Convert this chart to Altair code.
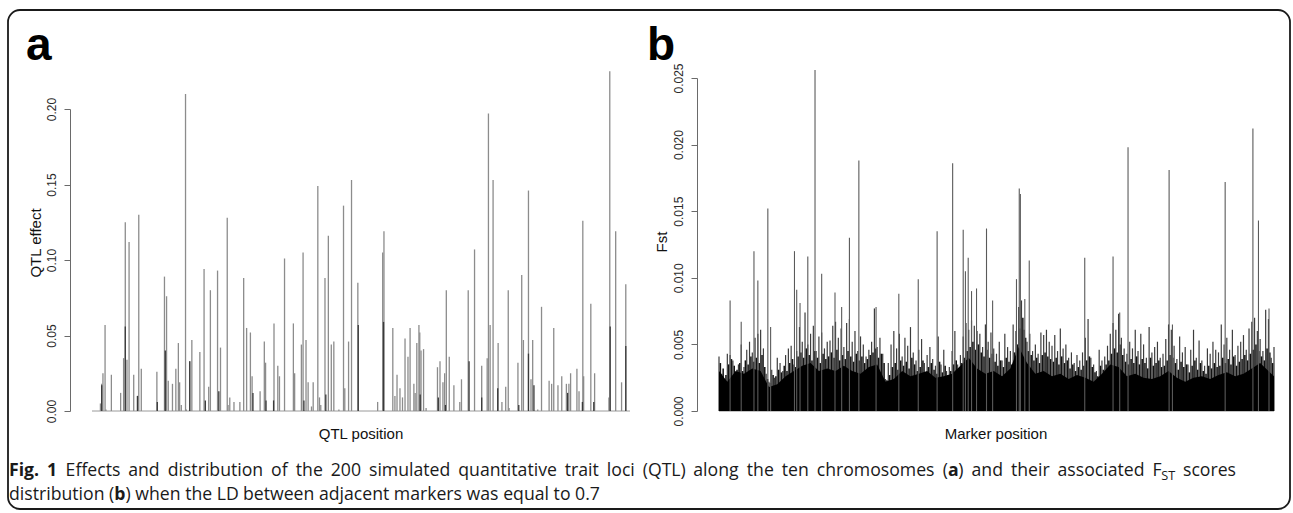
import altair as alt
import pandas as pd

# ---------------- Panel a : QTL effects along the genome ----------------
qtl_pos = [240, 243, 246, 251, 253, 266, 288, 295, 299, 303, 308, 319, 328, 331, 337, 374, 392, 397, 401, 411,
           419, 425, 428, 432, 442, 444, 452, 457, 476, 486, 497, 501, 518, 525, 541, 543, 547, 557, 571, 580,
           587, 596, 600, 619, 629, 632, 652, 661, 665, 677, 698, 701, 717, 721, 728, 733, 741, 745, 756, 760,
           763, 773, 781, 788, 794, 806, 817, 820, 829, 836, 851, 898, 910, 913, 934, 939, 944, 951, 957, 963,
           970, 975, 984, 987, 991, 996, 998, 1001, 1007, 1013, 1040, 1046, 1053, 1057, 1061, 1068, 1079, 1093, 1097, 1113,
           1128, 1145, 1158, 1161, 1165, 1172, 1184, 1193, 1202, 1208, 1210, 1231, 1240, 1244, 1256, 1262, 1266, 1278, 1287, 1305,
           1311, 1316, 1326, 1335, 1346, 1352, 1356, 1371, 1376, 1385, 1387, 1404, 1413, 1447, 1449, 1463, 1477, 1487]
qtl_effect = [0.005, 0.018, 0.025, 0.057, 0.001, 0.024, 0.012, 0.035, 0.125, 0.034, 0.112, 0.024, 0.010, 0.130, 0.028, 0.026, 0.089, 0.076, 0.020, 0.018,
              0.028, 0.045, 0.019, 0.004, 0.210, 0.001, 0.033, 0.047, 0.039, 0.094, 0.016, 0.080, 0.093, 0.042, 0.128, 0.004, 0.009, 0.006, 0.006, 0.088,
              0.055, 0.052, 0.023, 0.013, 0.046, 0.032, 0.058, 0.030, 0.023, 0.101, 0.058, 0.025, 0.044, 0.105, 0.047, 0.019, 0.003, 0.019, 0.149, 0.009,
              0.004, 0.088, 0.116, 0.044, 0.046, 0.001, 0.136, 0.015, 0.046, 0.153, 0.085, 0.006, 0.105, 0.119, 0.055, 0.010, 0.024, 0.015, 0.009, 0.048,
              0.036, 0.055, 0.018, 0.012, 0.045, 0.057, 0.052, 0.040, 0.041, 0.002, 0.029, 0.033, 0.019, 0.025, 0.080, 0.036, 0.017, 0.006, 0.021, 0.080,
              0.107, 0.030, 0.035, 0.197, 0.057, 0.153, 0.045, 0.006, 0.016, 0.080, 0.002, 0.032, 0.090, 0.047, 0.146, 0.021, 0.047, 0.001, 0.069, 0.020,
              0.018, 0.055, 0.017, 0.023, 0.018, 0.018, 0.025, 0.028, 0.013, 0.126, 0.023, 0.071, 0.025, 0.009, 0.225, 0.119, 0.019, 0.084]
# overlapping QTL drawn darker
qtl_dark_pos = [243, 299, 328, 375, 394, 452, 489, 521, 602, 633, 651, 723, 775, 852, 912, 999, 1042, 1059, 1115, 1145,
                1183, 1233, 1256, 1269, 1349, 1384, 1411, 1450, 1487]
qtl_dark_effect = [0.017, 0.056, 0.010, 0.006, 0.040, 0.033, 0.007, 0.013, 0.012, 0.007, 0.007, 0.007, 0.011, 0.057, 0.059, 0.011, 0.009, 0.004, 0.033, 0.009,
                   0.015, 0.004, 0.038, 0.017, 0.012, 0.006, 0.006, 0.056, 0.043]
qtl_ticks = [0.00, 0.05, 0.10, 0.15, 0.20]

# ---------------- Panel b : Fst along the markers ----------------
fst_spike_idx = [20, 40, 63, 70, 88, 93, 136, 140, 146, 160, 173, 185, 209, 221, 235, 252, 283, 324, 359, 393,
                 421, 440, 444, 449, 455, 464, 482, 493, 536, 541, 543, 551, 559, 659, 710, 722, 737, 811, 817, 912,
                 962, 972, 991]
fst_spike_val = [0.0083, 0.0067, 0.0120, 0.0098, 0.0152, 0.0063, 0.0120, 0.0091, 0.0081, 0.0116,
                 0.0256, 0.0103, 0.0089, 0.0078, 0.0130, 0.0188, 0.0078, 0.0088, 0.0099, 0.0135,
                 0.0186, 0.0136, 0.0105, 0.0115, 0.0090, 0.0092, 0.0137, 0.0083, 0.0099, 0.0167,
                 0.0163, 0.0084, 0.0113, 0.0115, 0.0116, 0.0074, 0.0198, 0.0181, 0.0065, 0.0172,
                 0.0212, 0.0143, 0.0077]
# upper marker lines, at marker index 0, 5, 10, ...
fst_line_val = [
    0.0041, 0.0028, 0.0024, 0.0043, 0.0042, 0.0038, 0.0029, 0.0035, 0.0050, 0.0033, 0.0046, 0.0052, 0.0044, 0.0055, 0.0058, 0.0061, 0.0047, 0.0028, 0.0022, 0.0031,
    0.0025, 0.0040, 0.0036, 0.0030, 0.0042, 0.0047, 0.0049, 0.0035, 0.0045, 0.0063, 0.0052, 0.0074, 0.0050, 0.0058, 0.0064, 0.0045, 0.0056, 0.0059, 0.0047, 0.0052,
    0.0053, 0.0064, 0.0067, 0.0055, 0.0062, 0.0048, 0.0066, 0.0069, 0.0052, 0.0060, 0.0045, 0.0056, 0.0050, 0.0041, 0.0046, 0.0052, 0.0077, 0.0048, 0.0055, 0.0043,
    0.0024, 0.0036, 0.0050, 0.0060, 0.0047, 0.0058, 0.0041, 0.0055, 0.0049, 0.0063, 0.0044, 0.0038, 0.0046, 0.0054, 0.0036, 0.0042, 0.0048, 0.0039, 0.0034, 0.0056,
    0.0035, 0.0046, 0.0030, 0.0033, 0.0045, 0.0060, 0.0035, 0.0042, 0.0056, 0.0066, 0.0061, 0.0068, 0.0064, 0.0060, 0.0058, 0.0048, 0.0065, 0.0052, 0.0059, 0.0047,
    0.0043, 0.0052, 0.0038, 0.0058, 0.0048, 0.0045, 0.0065, 0.0060, 0.0078, 0.0083, 0.0061, 0.0052, 0.0058, 0.0045, 0.0050, 0.0043, 0.0059, 0.0057, 0.0061, 0.0052,
    0.0049, 0.0057, 0.0045, 0.0062, 0.0047, 0.0050, 0.0040, 0.0044, 0.0036, 0.0042, 0.0038, 0.0044, 0.0055, 0.0069, 0.0040, 0.0035, 0.0030, 0.0046, 0.0038, 0.0041,
    0.0049, 0.0058, 0.0066, 0.0061, 0.0073, 0.0055, 0.0047, 0.0043, 0.0052, 0.0047, 0.0061, 0.0045, 0.0058, 0.0050, 0.0040, 0.0063, 0.0044, 0.0048, 0.0052, 0.0040,
    0.0043, 0.0054, 0.0065, 0.0061, 0.0049, 0.0039, 0.0056, 0.0044, 0.0048, 0.0035, 0.0046, 0.0061, 0.0040, 0.0053, 0.0038, 0.0034, 0.0047, 0.0043, 0.0052, 0.0046,
    0.0044, 0.0065, 0.0050, 0.0055, 0.0046, 0.0061, 0.0042, 0.0049, 0.0052, 0.0057, 0.0046, 0.0062, 0.0067, 0.0070, 0.0060, 0.0054, 0.0045, 0.0076, 0.0069, 0.0040, 0.0048]
# dense dark marker lines, at marker index 2.5, 7.5, 12.5, ...
fst_mid_val = [
    0.0036, 0.0032, 0.0027, 0.0035, 0.0039, 0.0034, 0.0031, 0.0036, 0.0030, 0.0038, 0.0035, 0.0041, 0.0037, 0.0040, 0.0036, 0.0042, 0.0033, 0.0024, 0.0021, 0.0027,
    0.0026, 0.0031, 0.0029, 0.0034, 0.0030, 0.0036, 0.0039, 0.0033, 0.0041, 0.0044, 0.0040, 0.0047, 0.0042, 0.0038, 0.0045, 0.0040, 0.0036, 0.0043, 0.0039, 0.0041,
    0.0044, 0.0040, 0.0046, 0.0038, 0.0042, 0.0039, 0.0045, 0.0041, 0.0037, 0.0043, 0.0038, 0.0041, 0.0036, 0.0039, 0.0042, 0.0044, 0.0047, 0.0040, 0.0043, 0.0036,
    0.0023, 0.0027, 0.0033, 0.0036, 0.0031, 0.0038, 0.0034, 0.0037, 0.0032, 0.0040, 0.0035, 0.0030, 0.0033, 0.0038, 0.0029, 0.0033, 0.0036, 0.0031, 0.0028, 0.0037,
    0.0029, 0.0034, 0.0027, 0.0030, 0.0035, 0.0038, 0.0031, 0.0036, 0.0040, 0.0045, 0.0048, 0.0052, 0.0046, 0.0050, 0.0044, 0.0041, 0.0046, 0.0040, 0.0043, 0.0037,
    0.0034, 0.0038, 0.0033, 0.0040, 0.0037, 0.0035, 0.0044, 0.0050, 0.0062, 0.0070, 0.0055, 0.0045, 0.0042, 0.0038, 0.0040, 0.0036, 0.0042, 0.0044, 0.0041, 0.0039,
    0.0037, 0.0040, 0.0035, 0.0041, 0.0036, 0.0038, 0.0032, 0.0035, 0.0030, 0.0033, 0.0031, 0.0034, 0.0038, 0.0041, 0.0033, 0.0029, 0.0026, 0.0034, 0.0031, 0.0035,
    0.0038, 0.0043, 0.0047, 0.0044, 0.0050, 0.0042, 0.0037, 0.0035, 0.0039, 0.0036, 0.0041, 0.0035, 0.0039, 0.0036, 0.0032, 0.0040, 0.0034, 0.0036, 0.0038, 0.0033,
    0.0034, 0.0038, 0.0042, 0.0040, 0.0036, 0.0031, 0.0037, 0.0033, 0.0035, 0.0029, 0.0034, 0.0038, 0.0031, 0.0036, 0.0030, 0.0028, 0.0034, 0.0032, 0.0036, 0.0033,
    0.0034, 0.0040, 0.0036, 0.0039, 0.0035, 0.0041, 0.0034, 0.0037, 0.0039, 0.0042, 0.0038, 0.0043, 0.0046, 0.0050, 0.0045, 0.0041, 0.0038, 0.0047, 0.0044, 0.0036]
# solid black bulk, every 15th marker index
fst_bulk_val = [0.0030, 0.0022, 0.0030, 0.0028, 0.0032, 0.0030, 0.0018, 0.0020, 0.0026, 0.0030,
                0.0034, 0.0036, 0.0030, 0.0032, 0.0030, 0.0034, 0.0030, 0.0028, 0.0033, 0.0035,
                0.0022, 0.0024, 0.0030, 0.0026, 0.0028, 0.0030, 0.0025, 0.0026, 0.0028, 0.0034,
                0.0040, 0.0032, 0.0028, 0.0030, 0.0026, 0.0032, 0.0048, 0.0036, 0.0028, 0.0030,
                0.0026, 0.0028, 0.0024, 0.0027, 0.0025, 0.0022, 0.0028, 0.0035, 0.0033, 0.0026,
                0.0028, 0.0025, 0.0024, 0.0026, 0.0030, 0.0025, 0.0022, 0.0025, 0.0026, 0.0024,
                0.0027, 0.0029, 0.0026, 0.0028, 0.0032, 0.0036, 0.0030, 0.0026]
fst_ticks = [0.000, 0.005, 0.010, 0.015, 0.020, 0.025]

# caption pieces (text, style): b = bold, r = regular, s = subscript
caption_line1 = [("Fig. 1", "b"),
                 (" Effects and distribution of the 200 simulated quantitative trait loci (QTL) along the ten chromosomes (", "r"),
                 ("a", "b"), (") and their associated F", "r"), ("ST", "s"), (" scores", "r")]
caption_line2 = [("distribution (", "r"), ("b", "b"),
                 (") when the LD between adjacent markers was equal to 0.7", "r")]

# ---------------- tables ----------------
df_a = pd.DataFrame({"pos": qtl_pos, "effect": qtl_effect})
df_a_dark = pd.DataFrame({"pos": qtl_dark_pos, "effect": qtl_dark_effect})
df_a_base = pd.DataFrame({"pos": [220], "pos2": [1497], "effect": [0.0]})

df_b_spk = pd.DataFrame({"idx": fst_spike_idx, "fst": fst_spike_val})
df_b_line = pd.DataFrame({"idx": [5 * i for i in range(len(fst_line_val))], "fst": fst_line_val})
df_b_mid = pd.DataFrame({"idx": [5 * i + 2.5 for i in range(len(fst_mid_val))], "fst": fst_mid_val})
df_b_bulk = pd.DataFrame({"idx": [min(15 * i, 1000) for i in range(len(fst_bulk_val))], "fst": fst_bulk_val})
df_b_base = pd.DataFrame({"idx": [0], "idx2": [1000], "fst": [0.0]})

xa = alt.Scale(domain=[220, 1497], range=[92, 630], nice=False, zero=False)
ya = alt.Scale(domain=[0, 0.2], range=[411, 109], nice=False, zero=False)
xb = alt.Scale(domain=[0, 1000], range=[719, 1274], nice=False, zero=False)
yb = alt.Scale(domain=[0, 0.025], range=[411, 78], nice=False, zero=False)

axis_style = dict(orient="left", grid=False, title=None, tickSize=6, tickWidth=1, domainWidth=1,
                  tickColor="#6a6a6a", domainColor="#6a6a6a", labelColor="#2a2a2a",
                  labelFont="Liberation Sans", labelFontSize=12, labelAngle=270,
                  labelAlign="center", labelBaseline="bottom", labelPadding=6,
                  labelOverlap=False, labelFlush=False)
ax_a = alt.Axis(values=qtl_ticks, format=".2f", offset=-70, **axis_style)
ax_b = alt.Axis(values=fst_ticks, format=".3f", offset=-697, **axis_style)

XA = alt.X("pos:Q", scale=xa, axis=None)
YA = alt.Y("effect:Q", scale=ya, axis=ax_a)
XB = alt.X("idx:Q", scale=xb, axis=None)
YB = alt.Y("fst:Q", scale=yb, axis=ax_b)

a_base = alt.Chart(df_a_base).mark_rule(color="#9a9a9a", strokeWidth=1).encode(x=XA, x2="pos2:Q", y=YA)
a_bars = alt.Chart(df_a).mark_rule(color="#8c8c8c", strokeWidth=1.3).encode(x=XA, y=YA, y2=alt.datum(0))
a_dark = alt.Chart(df_a_dark).mark_rule(color="#3a3a3a", strokeWidth=1.3).encode(x=XA, y=YA, y2=alt.datum(0))
panel_a = alt.layer(a_base, a_bars, a_dark)

b_base = alt.Chart(df_b_base).mark_rule(color="#8a8a8a", strokeWidth=1).encode(x=XB, x2="idx2:Q", y=YB)
b_lines = alt.Chart(df_b_line).mark_rule(color="#3c3c3c", strokeWidth=1.2).encode(x=XB, y=YB, y2=alt.datum(0))
b_mid = alt.Chart(df_b_mid).mark_rule(color="#111111", strokeWidth=1.5).encode(x=XB, y=YB, y2=alt.datum(0))
b_bulk = alt.Chart(df_b_bulk).mark_area(color="#000000").encode(x=XB, y=YB)
b_spk = alt.Chart(df_b_spk).mark_rule(color="#5a5a5a", strokeWidth=1.1).encode(x=XB, y=YB, y2=alt.datum(0))
panel_b = alt.layer(b_base, b_lines, b_mid, b_bulk, b_spk)

one = pd.DataFrame({"t": [""]})


def label(text, x, y, size, weight="normal", angle=0, align="left", baseline="alphabetic",
          font="Liberation Sans", color="#111111"):
    return alt.Chart(pd.DataFrame({"t": [text]})).mark_text(
        fontSize=size, fontWeight=weight, angle=angle, align=align, baseline=baseline,
        font=font, color=color).encode(x=alt.value(x), y=alt.value(y), text="t:N")


border = alt.Chart(one).mark_rect(cornerRadius=12, fill="white", fillOpacity=0, stroke="#1a1a1a",
                                  strokeWidth=1.8).encode(x=alt.value(8), x2=alt.value(1290),
                                                          y=alt.value(10), y2=alt.value(509))

# approximate Open Sans advance widths (em) used to lay the caption pieces side by side
_reg = {"a": .556, "b": .613, "c": .476, "d": .613, "e": .561, "f": .339, "g": .548, "h": .614, "i": .253,
        "j": .253, "k": .525, "l": .253, "m": .930, "n": .614, "o": .604, "p": .613, "q": .613, "r": .408,
        "s": .477, "t": .353, "u": .614, "v": .501, "w": .778, "x": .524, "y": .502, "z": .466, " ": .260,
        "(": .295, ")": .295, ".": .266, "D": .722, "E": .549, "F": .501, "L": .503, "Q": .781, "S": .535,
        "T": .541}
_bold = {"F": .556, "i": .286, "g": .577, ".": .286, " ": .260, "a": .590, "b": .633}


def em_width(s, style):
    if style == "b":
        return sum(_bold.get(c, .60) for c in s)
    w = sum(_reg.get(c, .572) for c in s)
    return w * (0.72 if style == "s" else 1.0)


cap_font = "Open Sans"
cap_left = 9
line1_right = 1236   # justified first line
line2_right = 600    # natural width of the last line
fs = (line2_right - cap_left) / sum(em_width(t, st) for t, st in caption_line2)


def caption(pieces, y, justify_to=None):
    natural = sum(em_width(t, st) for t, st in pieces) * fs
    n_space = sum(t.count(" ") for t, st in pieces)
    extra = max(0.0, (justify_to - cap_left - natural) / n_space) if justify_to else 0.0
    out, x = [], cap_left
    for t, st in pieces:
        size = fs * 0.72 if st == "s" else fs
        yy = y + 4 if st == "s" else y
        for k, word in enumerate(t.split(" ")):
            if k > 0:
                x += em_width(" ", "r") * fs + extra
            if word:
                out.append(label(word, round(x, 1), yy, round(size, 2),
                                 weight="bold" if st == "b" else "normal", font=cap_font, color="#1a1a1a"))
                x += em_width(word, st) * fs
    return out


texts = [
    label("a", 26, 60, 46, weight="bold", font="Liberation Sans", color="#000"),
    label("b", 647, 60, 46, weight="bold", font="Liberation Sans", color="#000"),
    label("QTL effect", 36, 243, 15, angle=270, align="center", baseline="middle"),
    label("Fst", 662, 242, 15, angle=270, align="center", baseline="middle"),
    label("QTL position", 361, 434, 15, align="center", baseline="middle"),
    label("Marker position", 996, 434, 15, align="center", baseline="middle"),
] + caption(caption_line1, 476, justify_to=line1_right) + caption(caption_line2, 500)

chart = alt.layer(border, panel_a, panel_b, *texts).resolve_scale(
    x="independent", y="independent"
).properties(
    width=1293, height=513, autosize=alt.AutoSizeParams(type="none"), padding=0,
    background="white"
).configure_view(strokeOpacity=0)

chart.save("out.html", embed_options={"renderer": "svg", "actions": False})
